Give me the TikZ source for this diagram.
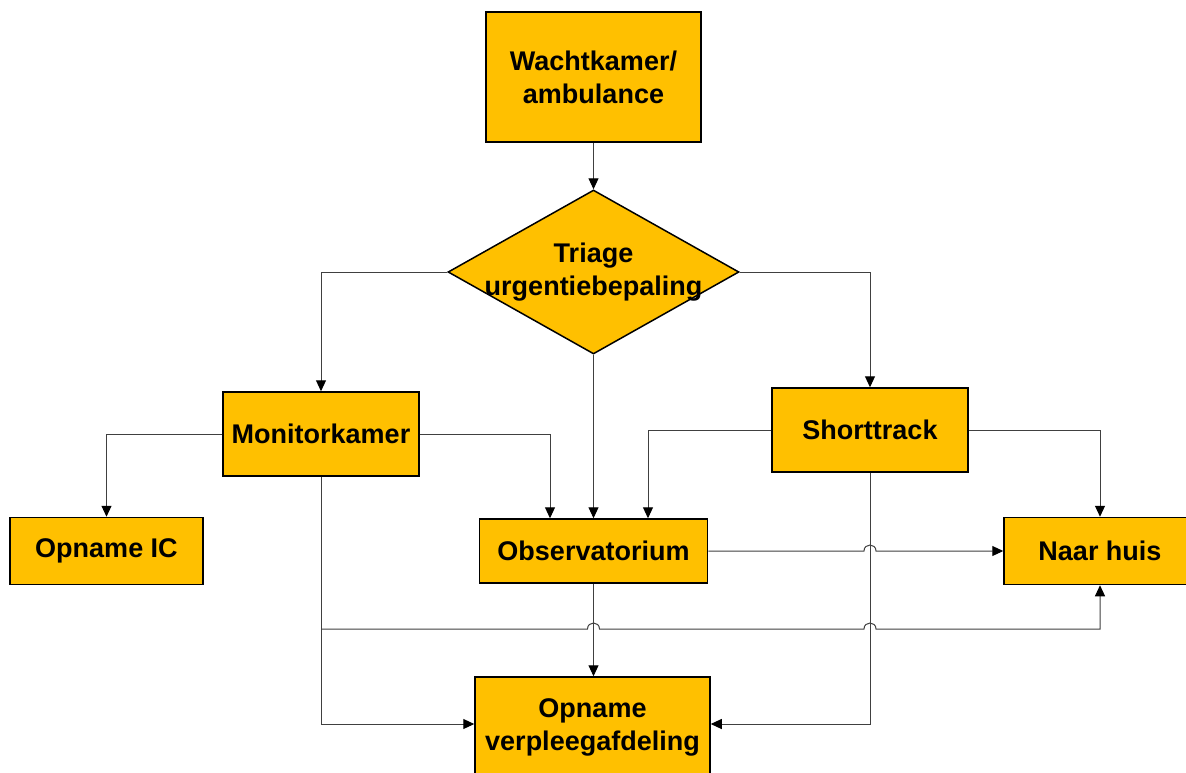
\documentclass[tikz,border=0pt]{standalone}
\usepackage{fontspec}
\setmainfont{Liberation Sans}
\usetikzlibrary{arrows.meta,shapes.geometric}
\definecolor{boxfill}{HTML}{FFC000}
\definecolor{linegray}{HTML}{404040}
\begin{document}
\begin{tikzpicture}[x=1pt,y=-1pt,
  lbl/.style={font=\fontsize{27}{33}\selectfont\bfseries,align=center,text=black},
  box/.style={lbl,draw=black,line width=1.5pt,fill=boxfill,inner sep=0pt},
  conn/.style={draw=linegray,line width=1pt,-{Triangle[length=11pt,width=10pt,color=black]}},
  plainline/.style={draw=linegray,line width=1pt}]
\clip (0,0) rectangle (1186,772);
\fill[white] (0,0) rectangle (1186,772);
% nodes
\node[box,minimum width=215pt,minimum height=130pt] (wacht) at (593.5,77) {Wachtkamer/\\ambulance};
\node[diamond,draw=black,line width=1.5pt,fill=boxfill,inner sep=0pt,
      minimum width=291pt,minimum height=164pt] (triage) at (593.5,272) {};
\node[lbl] (triagetext) at (triage.center) {Triage\\urgentiebepaling};
\node[box,minimum width=196pt,minimum height=84pt] (moni) at (321,434) {Monitorkamer};
\node[box,minimum width=196pt,minimum height=84pt] (short) at (870,430) {Shorttrack};
\node[box,minimum width=193pt,minimum height=67pt] (ic) at (106.5,551) {Opname IC};
\node[box,minimum width=228pt,minimum height=64pt] (obs) at (593.5,551) {Observatorium};
\node[box,minimum width=192pt,minimum height=67pt] (huis) at (1100,551) {Naar huis};
\node[box,minimum width=235pt,minimum height=100pt] (verpl) at (592.5,727) {Opname\\verpleegafdeling};
% connectors
\draw[conn] (wacht.south) -- (triage.north);
\draw[conn] (triage.west) -| (moni.north);
\draw[conn] (triage.east) -| (short.north);
\draw[conn] (triage.south) -- (triage.south |- obs.north);
\draw[conn] (moni.west) -| (ic.north);
\draw[conn] (moni.east) -| ([xshift=-43.5pt]obs.north);
\draw[conn] (short.west) -| ([xshift=54.5pt]obs.north);
\draw[conn] (short.east) -| (huis.north);
\draw[conn] (obs.east) -- (864,551) .. controls (864,543) and (876,543) .. (876,551) -- (huis.west);
\draw[conn] (moni.south) |- ([yshift=3pt]verpl.west);
\coordinate (split) at (321,629);
\draw[conn] (split) -- (587.5,629) .. controls (587.5,621) and (599.5,621) .. (599.5,629)
  -- (864,629) .. controls (864,621) and (876,621) .. (876,629) -| (huis.south);
\draw[conn] (obs.south) -- (obs.south |- verpl.north);
\draw[conn] (short.south) |- ([yshift=3pt]verpl.east);
\end{tikzpicture}
\end{document}
